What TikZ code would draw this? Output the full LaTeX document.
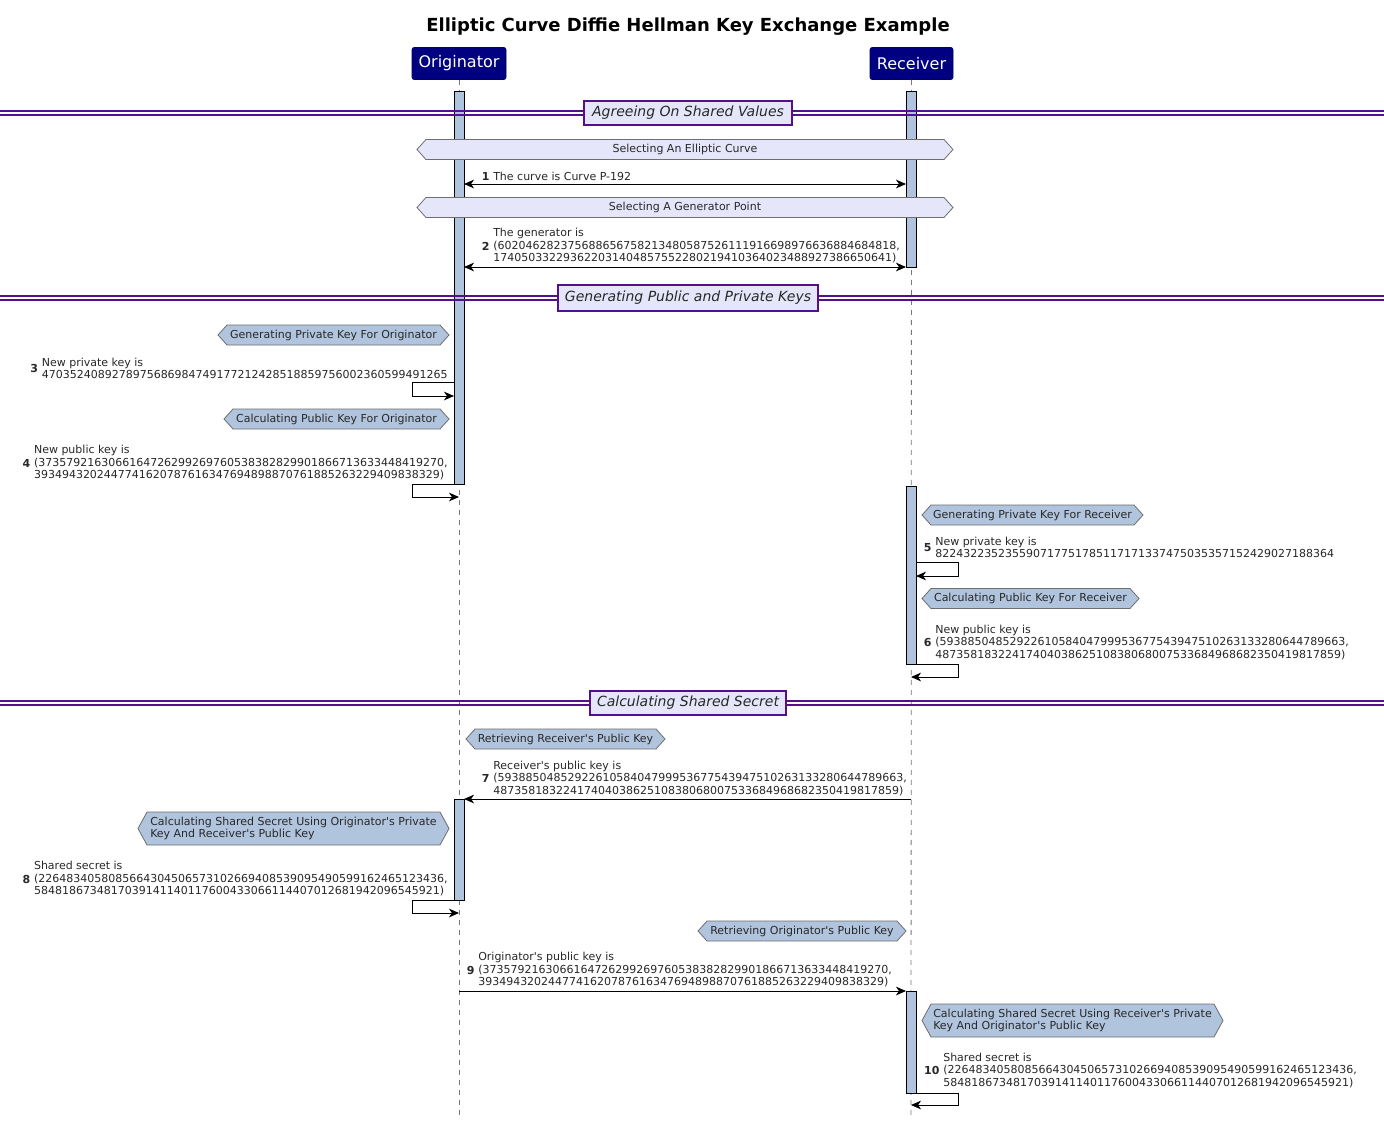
\documentclass[tikz,border=0pt]{standalone}
\usepackage{fontspec}
\setmainfont{DejaVu Sans}
\usetikzlibrary{arrows.meta}

\definecolor{partfill}{RGB}{0,0,128}
\definecolor{steel}{RGB}{176,196,222}
\definecolor{lav}{RGB}{230,230,250}
\definecolor{seppurple}{RGB}{84,16,140}
\definecolor{hexborder}{RGB}{110,110,110}
\definecolor{lifegray}{RGB}{120,120,120}
\definecolor{msggray}{RGB}{40,40,40}

\newcommand\msgfont{\fontsize{8.25pt}{9.375pt}\selectfont}
\newcommand\ap{\textquotesingle}

% hexagonal note: name, x1, x2, y-centre, height, fill, text
\newcommand\hexnote[7]{%
  \path[fill=#6, draw=hexborder, line width=0.6pt]
    (#2,#4) -- (#2+9,#4-#5/2) -- (#3-9,#4-#5/2) -- (#3,#4)
    -- (#3-9,#4+#5/2) -- (#2+9,#4+#5/2) -- cycle;
  \node[hextext] (#1) at ({(#2+#3)/2},#4) {#7};}

% group divider: name, y-centre, box width, box height, text
\newcommand\divider[5]{%
  \draw[sepline] (0,#2-2) -- (1384,#2-2);
  \draw[sepline] (0,#2+2) -- (1384,#2+2);
  \node[sepbox, minimum width=#3*0.75pt, minimum height=#4*0.75pt] (#1) at (688,#2) {#5};}

\tikzset{
  x=0.75pt, y=-0.75pt,
  participant/.style={fill=partfill, draw=partfill!80!black, rounded corners=1.5pt,
    text=white, font=\fontsize{12pt}{14pt}\selectfont, minimum height=24pt, inner xsep=4.5pt},
  lifeline/.style={draw=lifegray, line width=0.6pt, dash pattern=on 3.75pt off 3.75pt},
  actbar/.style={fill=steel, draw=black, line width=0.75pt},
  sepline/.style={draw=seppurple, line width=0.9pt},
  sepbox/.style={fill=lav, draw=seppurple, line width=1.3pt, inner sep=0pt,
    font=\fontsize{10.5pt}{12pt}\selectfont\itshape, text=msggray},
  hextext/.style={inner sep=0pt, align=left, font=\msgfont, text=msggray},
  msgtext/.style={inner sep=0pt, align=left, font=\msgfont, text=msggray},
  num/.style={anchor=east, inner sep=0pt, font=\msgfont\bfseries, text=msggray},
  msg/.style={draw=black, line width=0.75pt, -{Stealth[length=7.5pt, width=6.5pt, inset=2.2pt]}},
  msgboth/.style={draw=black, line width=0.75pt,
    {Stealth[length=7.5pt, width=6.5pt, inset=2.2pt]}-{Stealth[length=7.5pt, width=6.5pt, inset=2.2pt]}},
}

\begin{document}
\begin{tikzpicture}
\useasboundingbox[fill=white] (0,0) rectangle (1384,1124);

% title and participants
\node[font=\fontsize{13.5pt}{16pt}\selectfont\bfseries] (title) at (688,27)
  {Elliptic Curve Diffie Hellman Key Exchange Example};
\node[participant, minimum width=70.5pt] (orig) at (459,63.5) {Originator};
\node[participant, minimum width=62.25pt] (recv) at (911.5,63.5) {Receiver};

% lifelines
\coordinate (origEnd) at (459,1116);
\coordinate (recvEnd) at (911,1116);
\draw[lifeline] (orig.south) -- (origEnd);
\draw[lifeline] (recv.south) -- (recvEnd);

% activation bars
\draw[actbar] (454,91) rectangle (464,484);
\draw[actbar] (906,91) rectangle (916,267);
\draw[actbar] (906,486) rectangle (916,664);
\draw[actbar] (454,799) rectangle (464,900);
\draw[actbar] (906,991) rectangle (916,1093);

% ---------------- Agreeing on shared values
\divider{sepA}{113}{208}{24}{Agreeing On Shared Values}

\hexnote{hA}{417}{953}{149.5}{20}{lav}{Selecting An Elliptic Curve}
\node[msgtext, anchor=west] (m1) at (493,176.5) {The curve is Curve P-192};
\node[num] (n1) at ([xshift=-2.5pt]m1.west) {1};
\coordinate (a1o) at (464,184);
\coordinate (a1r) at (906,184);
\draw[msgboth] (a1o) -- (a1r);

\hexnote{hB}{417}{953}{207.5}{20}{lav}{Selecting A Generator Point}
\node[msgtext, anchor=west] (m2) at (493,246) {The generator is\\
(602046282375688656758213480587526111916698976636884684818,\\
174050332293622031404857552280219410364023488927386650641)};
\node[num] (n2) at ([xshift=-2.5pt]m2.west) {2};
\coordinate (a2o) at (464,267);
\coordinate (a2r) at (906,267);
\draw[msgboth] (a2o) -- (a2r);

% ---------------- Generating public and private keys
\divider{sepB}{298}{260}{26}{Generating Public and Private Keys}

\hexnote{hC}{218}{449}{335}{20}{steel}{Generating Private Key For Originator}
\node[msgtext, anchor=east] (m3) at (448,368.5) {New private key is\\
4703524089278975686984749177212428518859756002360599491265};
\node[num] (n3) at ([xshift=-2.5pt]m3.west) {3};
\coordinate (a3s) at (454,382);
\coordinate (a3e) at (454,396);
\draw[msg] (a3s) -| (412,396) -- (a3e);

\hexnote{hD}{224}{449}{419}{20}{steel}{Calculating Public Key For Originator}
\node[msgtext, anchor=east] (m4) at (448,463) {New public key is\\
(3735792163066164726299269760538382829901866713633448419270,\\
3934943202447741620787616347694898870761885263229409838329)};
\node[num] (n4) at ([xshift=-2.5pt]m4.west) {4};
\coordinate (a4s) at (454,484);
\coordinate (a4e) at (459,497);
\draw[msg] (a4s) -| (412,497) -- (a4e);

\hexnote{hE}{922}{1143}{515}{20}{steel}{Generating Private Key For Receiver}
\node[msgtext, anchor=west] (m5) at (935,547.5) {New private key is\\
822432235235590717751785117171337475035357152429027188364};
\node[num] (n5) at ([xshift=-2.5pt]m5.west) {5};
\coordinate (a5s) at (916,562);
\coordinate (a5e) at (916,576);
\draw[msg] (a5s) -| (958,576) -- (a5e);

\hexnote{hF}{922}{1139}{598.5}{20}{steel}{Calculating Public Key For Receiver}
\node[msgtext, anchor=west] (m6) at (935,642.5) {New public key is\\
(5938850485292261058404799953677543947510263133280644789663,\\
4873581832241740403862510838068007533684968682350419817859)};
\node[num] (n6) at ([xshift=-2.5pt]m6.west) {6};
\coordinate (a6s) at (916,664);
\coordinate (a6e) at (911,677);
\draw[msg] (a6s) -| (958,677) -- (a6e);

% ---------------- Calculating shared secret
\divider{sepC}{703}{196}{24}{Calculating Shared Secret}

\hexnote{hG}{466}{665}{739}{20}{steel}{Retrieving Receiver\ap s Public Key}
\node[msgtext, anchor=west] (m7) at (493,778.5) {Receiver\ap s public key is\\
(5938850485292261058404799953677543947510263133280644789663,\\
4873581832241740403862510838068007533684968682350419817859)};
\node[num] (n7) at ([xshift=-2.5pt]m7.west) {7};
\coordinate (a7r) at (911,799);
\coordinate (a7o) at (464,799);
\draw[msg] (a7r) -- (a7o);

\hexnote{hH}{138}{449}{828.5}{33}{steel}{Calculating Shared Secret Using Originator\ap s Private\\
Key And Receiver\ap s Public Key}
\node[msgtext, anchor=east] (m8) at (448,879) {Shared secret is\\
(2264834058085664304506573102669408539095490599162465123436,\\
5848186734817039141140117600433066114407012681942096545921)};
\node[num] (n8) at ([xshift=-2.5pt]m8.west) {8};
\coordinate (a8s) at (454,900);
\coordinate (a8e) at (459,913);
\draw[msg] (a8s) -| (412,913) -- (a8e);

\hexnote{hI}{698}{906}{931}{20}{steel}{Retrieving Originator\ap s Public Key}
\node[msgtext, anchor=west] (m9) at (478,970) {Originator\ap s public key is\\
(3735792163066164726299269760538382829901866713633448419270,\\
3934943202447741620787616347694898870761885263229409838329)};
\node[num] (n9) at ([xshift=-2.5pt]m9.west) {9};
\coordinate (a9o) at (459,991);
\coordinate (a9r) at (906,991);
\draw[msg] (a9o) -- (a9r);

\hexnote{hJ}{922}{1223}{1020.5}{33}{steel}{Calculating Shared Secret Using Receiver\ap s Private\\
Key And Originator\ap s Public Key}
\node[msgtext, anchor=west] (m10) at (943,1070.5) {Shared secret is\\
(2264834058085664304506573102669408539095490599162465123436,\\
5848186734817039141140117600433066114407012681942096545921)};
\node[num] (n10) at ([xshift=-2.5pt]m10.west) {10};
\coordinate (a10s) at (916,1093);
\coordinate (a10e) at (911,1105);
\draw[msg] (a10s) -| (958,1105) -- (a10e);

\end{tikzpicture}
\end{document}
